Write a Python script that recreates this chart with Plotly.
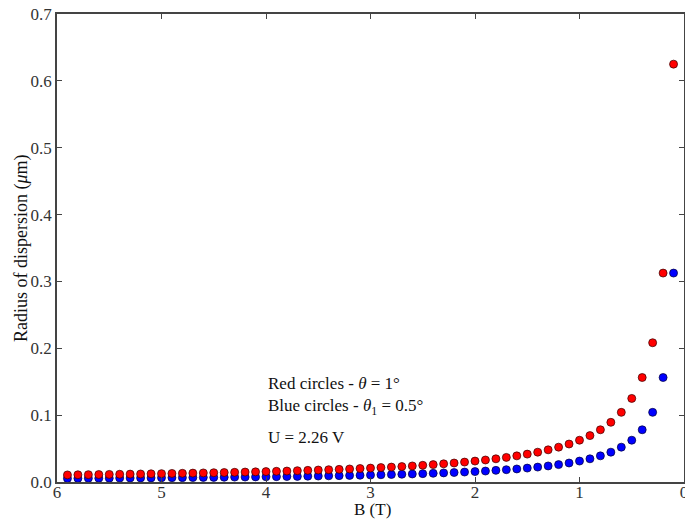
import plotly.graph_objects as go

B_T = [0.1, 0.2, 0.3, 0.4, 0.5, 0.6, 0.7, 0.8, 0.9, 1.0,
       1.1, 1.2, 1.3, 1.4, 1.5, 1.6, 1.7, 1.8, 1.9, 2.0,
       2.1, 2.2, 2.3, 2.4, 2.5, 2.6, 2.7, 2.8, 2.9, 3.0,
       3.1, 3.2, 3.3, 3.4, 3.5, 3.6, 3.7, 3.8, 3.9, 4.0,
       4.1, 4.2, 4.3, 4.4, 4.5, 4.6, 4.7, 4.8, 4.9, 5.0,
       5.1, 5.2, 5.3, 5.4, 5.5, 5.6, 5.7, 5.8, 5.9]

red_radius = [0.625, 0.3125, 0.2083, 0.1563, 0.125, 0.1042, 0.0893, 0.0781, 0.0694, 0.0625,
              0.0568, 0.0521, 0.0481, 0.0446, 0.0417, 0.0391, 0.0368, 0.0347, 0.0329, 0.0313,
              0.0298, 0.0284, 0.0272, 0.0260, 0.0250, 0.0240, 0.0231, 0.0223, 0.0216, 0.0208,
              0.0202, 0.0195, 0.0189, 0.0184, 0.0179, 0.0174, 0.0169, 0.0164, 0.0160, 0.0156,
              0.0152, 0.0149, 0.0145, 0.0142, 0.0139, 0.0136, 0.0133, 0.0130, 0.0128, 0.0125,
              0.0123, 0.0120, 0.0118, 0.0116, 0.0114, 0.0112, 0.0110, 0.0108, 0.0106]

blue_radius = [0.3125, 0.1563, 0.1042, 0.0781, 0.0625, 0.0521, 0.0446, 0.0391, 0.0347, 0.0313,
               0.0284, 0.0260, 0.0240, 0.0223, 0.0208, 0.0195, 0.0184, 0.0174, 0.0164, 0.0156,
               0.0149, 0.0142, 0.0136, 0.0130, 0.0125, 0.0120, 0.0116, 0.0112, 0.0108, 0.0104,
               0.0101, 0.0098, 0.0095, 0.0092, 0.0089, 0.0087, 0.0084, 0.0082, 0.0080, 0.0078,
               0.0076, 0.0074, 0.0073, 0.0071, 0.0069, 0.0068, 0.0066, 0.0065, 0.0064, 0.0063,
               0.0061, 0.0060, 0.0059, 0.0058, 0.0057, 0.0056, 0.0055, 0.0054, 0.0053]

x_ticks = [6, 5, 4, 3, 2, 1, 0]
y_ticks = [0.0, 0.1, 0.2, 0.3, 0.4, 0.5, 0.6, 0.7]

FONT = "Liberation Serif, DejaVu Serif, serif"

fig = go.Figure()
fig.add_trace(go.Scatter(x=B_T, y=blue_radius, mode="markers",
                         marker=dict(color="#0000ff", size=8, line=dict(color="#000033", width=0.7)),
                         showlegend=False, cliponaxis=False))
fig.add_trace(go.Scatter(x=B_T, y=red_radius, mode="markers",
                         marker=dict(color="#ff0000", size=8, line=dict(color="#330000", width=0.7)),
                         showlegend=False, cliponaxis=False))

ann_font = dict(family=FONT, size=17, color="#111")
fig.add_annotation(x=4.0, y=0.148, text="Red circles - <i>θ</i> = 1°", showarrow=False,
                   xanchor="left", yanchor="middle", font=ann_font)
fig.add_annotation(x=4.0, y=0.112, text="Blue circles - <i>θ</i><sub>1</sub> = 0.5°", showarrow=False,
                   xanchor="left", yanchor="middle", font=ann_font)
fig.add_annotation(x=4.0, y=0.067, text="U = 2.26 V", showarrow=False,
                   xanchor="left", yanchor="middle", font=ann_font)

# axis titles
fig.add_annotation(xref="paper", yref="paper", x=(372 - 57) / 627, y=(482 - 509) / 468,
                   text="B (T)", showarrow=False, xanchor="center", yanchor="middle",
                   font=dict(family=FONT, size=17, color="#111"))
fig.add_annotation(xref="paper", yref="paper", x=(21 - 57) / 627, y=0.5,
                   text="Radius of dispersion (<i>μ</i>m)", showarrow=False, textangle=-90,
                   xanchor="center", yanchor="middle",
                   font=dict(family=FONT, size=18, color="#111"))

axis_common = dict(showline=True, linecolor="#444", linewidth=1.5, mirror="ticks",
                   ticks="inside", ticklen=5, tickwidth=1, tickcolor="#444",
                   showgrid=False, zeroline=False, automargin=False,
                   ticklabeloverflow="allow",
                   tickfont=dict(family=FONT, size=17, color="#333"))

fig.update_layout(
    width=685, height=519,
    margin=dict(l=57, r=1, t=14, b=37),
    plot_bgcolor="white", paper_bgcolor="white",
    font=dict(family=FONT, color="#111"),
    xaxis=dict(range=[6, 0], tickvals=x_ticks, ticktext=[str(v) for v in x_ticks],
               ticklabelstandoff=-6, **axis_common),
    yaxis=dict(range=[0, 0.7], tickvals=y_ticks, ticktext=[f"{v:.1f}" for v in y_ticks],
               **axis_common),
)

fig.write_html("out.html", config={"displayModeBar": False},
               post_script="document.body.style.margin='0';document.body.style.overflow='hidden';")
